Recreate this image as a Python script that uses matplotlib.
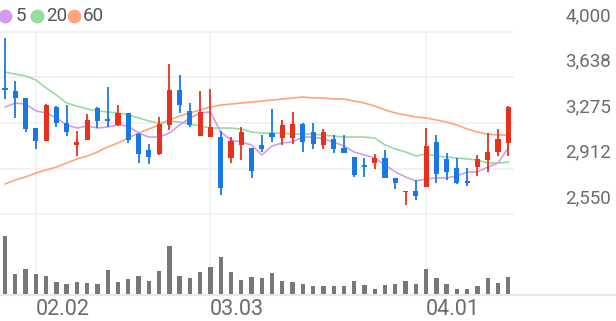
import numpy as np
import matplotlib
matplotlib.use('Agg')
import matplotlib.pyplot as plt
from matplotlib.lines import Line2D
from matplotlib.transforms import blended_transform_factory

plt.rcParams['font.family'] = ['Roboto', 'DejaVu Sans']

# daily candles (price)
opens = [3551, 3530, 3472, 3235, 3132, 3402, 3275, 3100, 3140, 3394,
         3304, 3259, 3355, 3187, 3060, 3028, 3259, 3538, 3371, 3171,
         3163, 3163, 2996, 3100, 3076, 3100, 3195, 3155, 3155, 3267,
         3203, 3100, 3148, 3076, 3004, 2935, 2956, 2996, 2837, 2725,
         2733, 2765, 3124, 2988, 2916, 2805, 2924, 2980, 3044, 3116]
highs = [3952, 3610, 3472, 3235, 3426, 3410, 3418, 3211, 3347, 3402,
         3562, 3418, 3355, 3195, 3108, 3323, 3745, 3657, 3434, 3530,
         3546, 3211, 3163, 3243, 3076, 3179, 3386, 3299, 3363, 3275,
         3275, 3227, 3179, 3179, 3004, 2996, 3028, 3060, 2837, 2733,
         2821, 3235, 3179, 3036, 2996, 2916, 3020, 3195, 3227, 3410]
lows = [3466, 3315, 3203, 3068, 3132, 3243, 3171, 3012, 3140, 3235,
        3243, 3251, 3116, 2956, 2948, 3020, 3219, 3355, 3243, 3171,
        3163, 2701, 2956, 2980, 2837, 3044, 3124, 3100, 3108, 3044,
        3068, 3068, 3036, 3036, 2845, 2845, 2908, 2837, 2749, 2622,
        2661, 2765, 2797, 2821, 2789, 2773, 2853, 2885, 3012, 3012]
closes = [3538, 3474, 3227, 3132, 3418, 3275, 3203, 3124, 3299, 3291,
          3293, 3355, 3140, 3028, 3004, 3267, 3538, 3418, 3259, 3363,
          3243, 2757, 3132, 3203, 2893, 3068, 3163, 3259, 3267, 3124,
          3108, 3203, 3068, 3036, 2861, 2927, 2996, 2837, 2797, 2733,
          2693, 3092, 2869, 2885, 2797, 2797, 2988, 3044, 3148, 3402]

ma5 = [3402, 3434, 3426, 3371, 3355, 3315, 3259, 3235, 3251, 3235,
       3243, 3259, 3251, 3195, 3163, 3163, 3195, 3259, 3315, 3355,
       3363, 3203, 3140, 3124, 3100, 3020, 3092, 3116, 3124, 3163,
       3163, 3148, 3124, 3092, 3044, 3020, 2996, 2940, 2885, 2845,
       2813, 2829, 2837, 2837, 2853, 2885, 2885, 2924, 2956, 3076]
ma20 = [3681, 3665, 3649, 3618, 3554, 3498, 3434, 3410, 3387, 3371,
        3363, 3355, 3339, 3315, 3291, 3275, 3291, 3283, 3267, 3251,
        3235, 3235, 3235, 3227, 3203, 3195, 3195, 3195, 3187, 3187,
        3187, 3179, 3171, 3163, 3163, 3163, 3155, 3100, 3068, 3044,
        3012, 3028, 3012, 3004, 2996, 2988, 2980, 2956, 2956, 2964]
ma60 = [2789, 2821, 2845, 2877, 2901, 2924, 2956, 2988, 3012, 3044,
        3084, 3116, 3155, 3195, 3227, 3259, 3299, 3331, 3355, 3379,
        3402, 3418, 3426, 3434, 3442, 3450, 3458, 3466, 3474, 3482,
        3474, 3474, 3466, 3466, 3450, 3434, 3410, 3379, 3355, 3339,
        3323, 3315, 3299, 3283, 3259, 3227, 3203, 3187, 3179, 3179]

volumes = [58, 20, 25, 20, 18, 12, 10, 12, 11, 10,
           24, 12, 15, 18, 13, 23, 48, 18, 16, 22,
           27, 37, 22, 14, 17, 16, 21, 13, 12, 10,
           8, 8, 8, 8, 13, 9, 5, 9, 10, 13,
           10, 25, 16, 10, 5, 5, 8, 16, 11, 17]

price_ticks = [2550, 2912, 3275, 3638, 4000]
date_idx = [3, 20, 41]
date_labels = ['02.02', '03.03', '04.01']
ma_names = ['5', '20', '60']

RED = '#e8301c'
BLUE = '#1a78e6'
C5, C20, C60 = '#d49cec', '#96dca0', '#ffa47e'
GRID = '#f0f0f0'
TXT = '#6b6b6b'

W, H = 616, 321
fig = plt.figure(figsize=(W / 100, H / 100), dpi=100)

def box(l, t, r, b):
    return [l / W, 1 - b / H, (r - l) / W, (b - t) / H]

px_per = 362.5 / 45.5  # price per pixel
xl = (-0.49, 49.56)

ax = fig.add_axes(box(0, 22, 514, 218))
ax.set_xlim(*xl)
ax.set_ylim(2550 - 4 * px_per, 4000 + 10 * px_per)
ax.axis('off')

for v in price_ticks:
    ax.axhline(v, color=GRID, lw=1.2, zorder=0)
    ax.annotate(f'{v:,}', xy=(1, v), xycoords=('axes fraction', 'data'),
                xytext=(97, 7), textcoords='offset pixels', ha='right', va='bottom',
                fontsize=13.5, color=TXT)
ytop = (4000 - ax.get_ylim()[0]) / (ax.get_ylim()[1] - ax.get_ylim()[0])
for i in date_idx:
    ax.axvline(i, ymax=ytop, color=GRID, lw=1.2, zorder=0)

x = np.arange(len(closes))
ax.plot(x, ma60, color=C60, lw=1.2, zorder=2)
ax.plot(x, ma20, color=C20, lw=1.2, zorder=2)
ax.plot(x, ma5, color=C5, lw=1.2, zorder=2)

o = np.array(opens); c = np.array(closes)
cols = [RED if cc >= oo else BLUE for oo, cc in zip(o, c)]
ax.vlines(x, lows, highs, colors=cols, lw=1.3, zorder=3)
body = np.maximum(np.abs(c - o), 1.5 * px_per)
ax.bar(x, body, bottom=np.minimum(o, c), width=0.5, color=cols, zorder=4)

# volume panel
axv = fig.add_axes(box(0, 218, 514, 294))
axv.set_xlim(*xl)
axv.set_ylim(0, 76)
axv.axis('off')
for i in date_idx:
    axv.axvline(i, color=GRID, lw=1.2, zorder=0)
axv.bar(x, volumes, width=0.42, color='#777777', zorder=2)

fig.add_artist(Line2D([0, 1], [1 - 294.5 / H] * 2, transform=fig.transFigure,
                      color='#e6e6e6', lw=1.5))

tr = blended_transform_factory(axv.transData, fig.transFigure)
for i, lab in zip(date_idx, date_labels):
    axv.text(i - 0.03, 1 - 309.5 / H, lab, transform=tr, ha='left', va='center',
             fontsize=15.5, color=TXT, clip_on=False)

# legend
for (dx, tx), name, col in zip([(5, 16), (37, 46), (74, 83)], ma_names, [C5, C20, C60]):
    fig.add_artist(Line2D([dx / W], [1 - 16 / H], transform=fig.transFigure,
                          marker='o', markersize=10, color=col, markeredgewidth=0))
    fig.text(tx / W, 1 - 16 / H, name, ha='left', va='center', fontsize=13.5, color='#555555')

fig.savefig('out.png', dpi=100)
